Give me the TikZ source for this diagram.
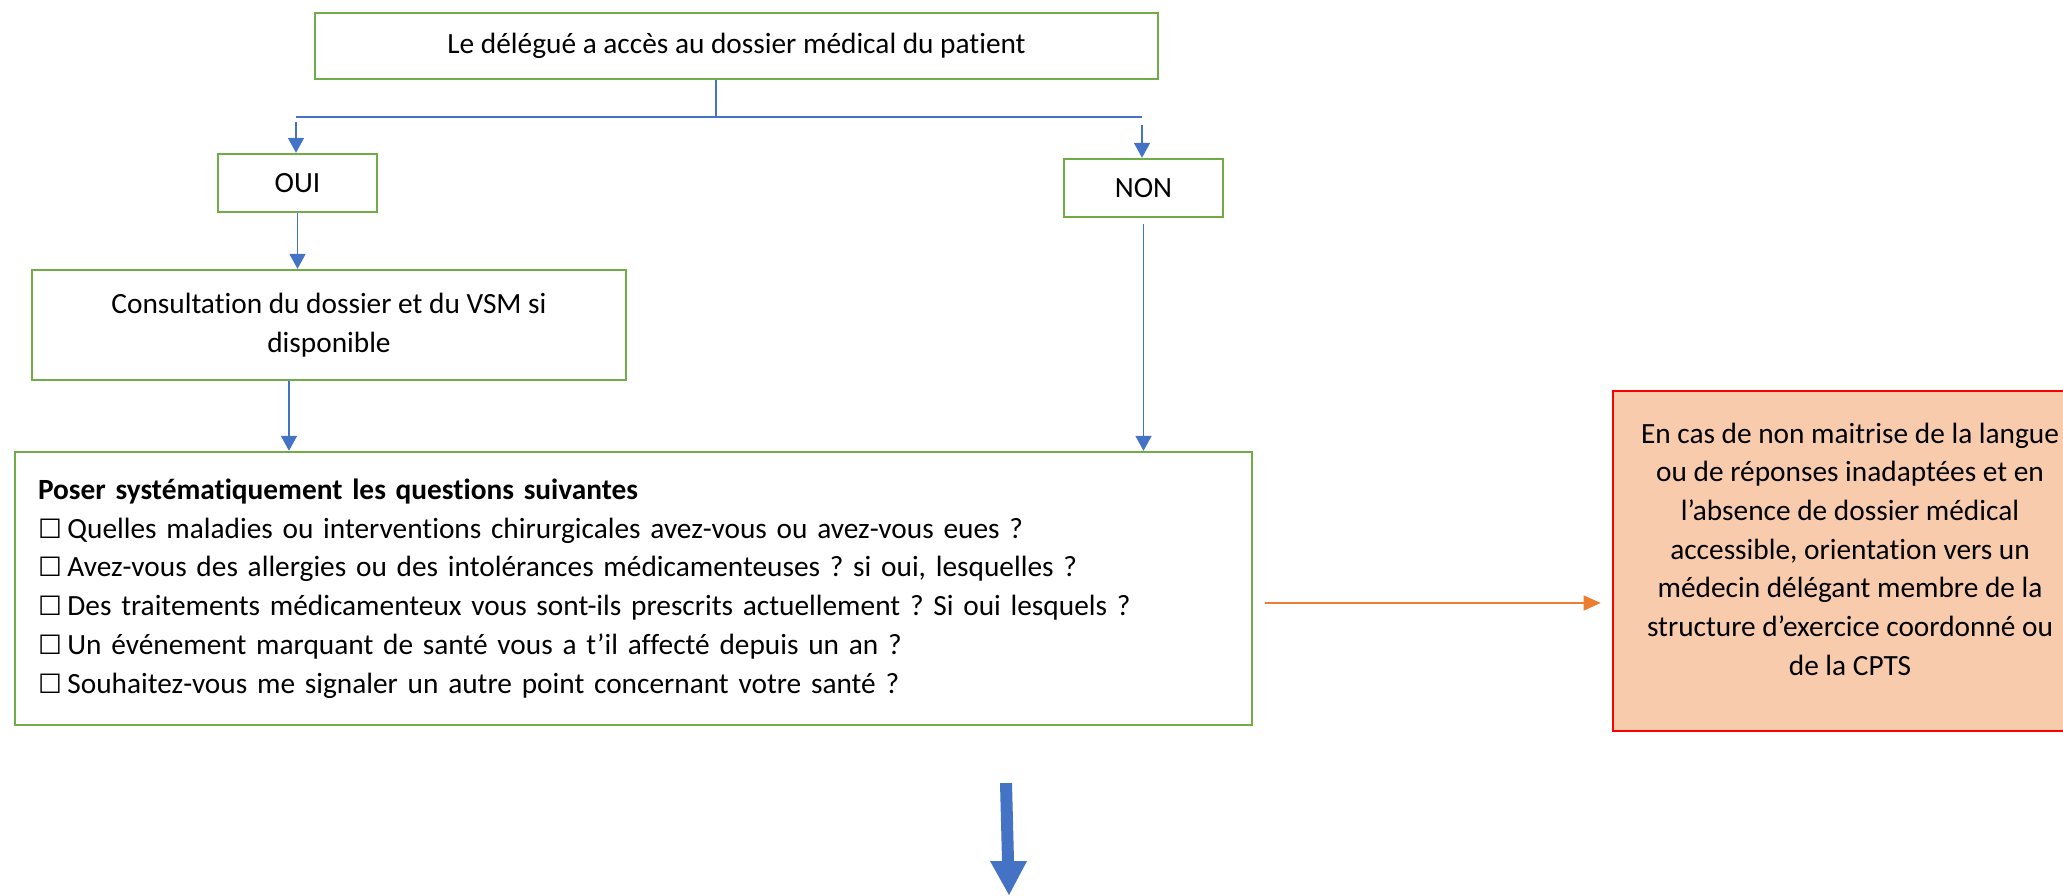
\documentclass[tikz,border=0pt]{standalone}
\usepackage{fontspec}
\setmainfont{Carlito}[RawFeature={-liga;-clig;-calt;-dlig}]
\newfontfamily\symfont{DejaVu Sans}
\usetikzlibrary{arrows.meta}
\frenchspacing
\definecolor{gbord}{HTML}{70AD47}
\definecolor{bconn}{HTML}{4472C4}
\definecolor{oconn}{HTML}{ED7D31}
\definecolor{rbord}{HTML}{FF0000}
\definecolor{rfill}{HTML}{F8CBAD}
\newcommand\cbx{\makebox[11pt][l]{{\symfont\fontsize{10}{10}\selectfont ☐}}}
\begin{document}
\begin{tikzpicture}[x=0.375pt,y=-0.375pt,
 gbox/.style={draw=gbord,line width=0.9pt,inner sep=0pt,font=\fontsize{11}{14.52}\selectfont,align=center},
 conn/.style={draw=bconn,line width=0.6pt},
 arr/.style={conn,-{Triangle[length=5.6pt,width=6pt]}},
 oarr/.style={draw=oconn,line width=0.6pt,-{Triangle[length=6.4pt,width=5.6pt]}},
 rbox/.style={draw=rbord,fill=rfill,line width=1pt,inner sep=0pt,font=\fontsize{11}{14.52}\selectfont,align=center}]
\useasboundingbox (0,0) rectangle (2063,895);
\node[gbox,minimum width=316.1pt,minimum height=24.75pt] (top) at (736.5,46) {Le délégué a accès au dossier médical du patient};
\node[gbox,minimum width=59.6pt,minimum height=21.75pt] (oui) at (297.5,183) {OUI};
\node[gbox,minimum width=59.6pt,minimum height=21.75pt] (non) at (1143.5,188) {NON};
\node[gbox,minimum width=222.75pt,minimum height=41.25pt] (cons) at (329,325) {Consultation du dossier et du VSM si\\disponible};
\node[gbox,minimum width=463.9pt,minimum height=102.4pt,text width=446.6pt,align=left,inner xsep=8.6pt] (pos) at (633.5,588.5) {\noindent\textbf{Poser systématiquement les questions suivantes}\\
\cbx Quelles maladies ou interventions chirurgicales avez-vous ou avez-vous eues ?\\
\cbx Avez-vous des allergies ou des intolérances médicamenteuses ? si oui, lesquelles ?\\
\cbx Des traitements médicamenteux vous sont-ils prescrits actuellement ? Si oui lesquels ?\\
\cbx Un événement marquant de santé vous a t’il affecté depuis un an ?\\
\cbx Souhaitez-vous me signaler un autre point concernant votre santé ?};
\node[rbox,minimum width=177.75pt,minimum height=127.5pt,text depth=9pt] (red) at (1850,561) {En cas de non maitrise de la langue\\ou de réponses inadaptées et en\\l’absence de dossier médical\\accessible, orientation vers un\\médecin délégant membre de la\\structure d’exercice coordonné ou\\de la CPTS};
\coordinate (jL) at (296,117);
\coordinate (jR) at (1142,117);
\coordinate (jT) at (716,117);
\coordinate (oA) at (296,122);
\coordinate (nA) at (1142,125);
\coordinate (cA) at (289,380);
\coordinate (oy) at (0,603);
\draw[conn] (top.south -| jT) -- (jT);
\draw[conn] (jL) -- (jR);
\draw[arr] (oA) -- (oA |- oui.north);
\draw[arr] (nA) -- (nA |- non.north);
\draw[arr] (oui.south) -- (oui.south |- cons.north);
\draw[arr] (cons.south -| cA) -- (pos.north -| cA);
\draw[arr,shorten <=2.25pt] (non.south) -- (non.south |- pos.north);
\draw[oarr,shorten <=4.5pt,shorten >=4.1pt] (pos.east |- oy) -- (red.west |- oy);
\fill[bconn] (1000,783) -- (1012,783) -- (1014,861) -- (1027,861) -- (1009,895) -- (990,861) -- (1002,861) -- cycle;
\end{tikzpicture}
\end{document}
